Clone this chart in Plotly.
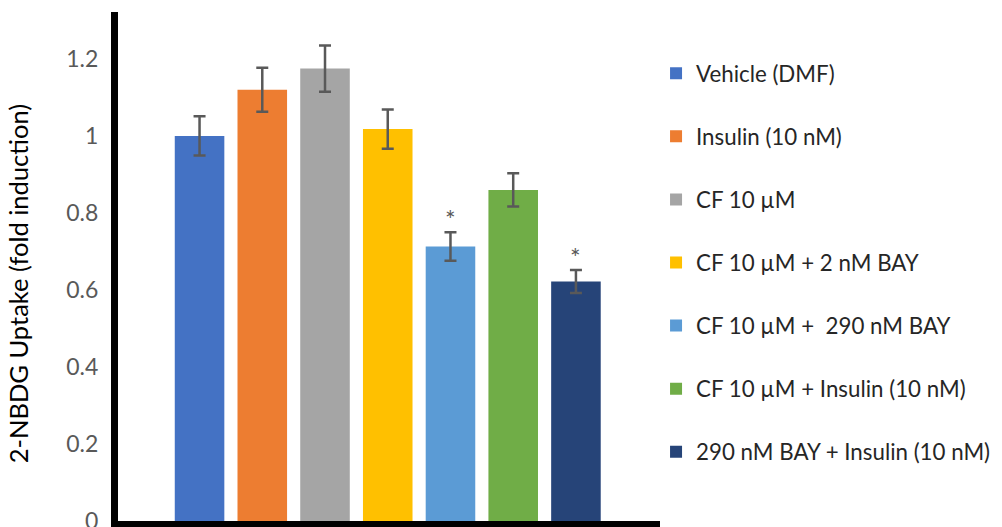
import plotly.graph_objects as go

categories = ["Vehicle (DMF)", "Insulin (10 nM)", "CF 10 µM", "CF 10 µM + 2 nM BAY",
              "CF 10 µM +  290 nM BAY", "CF 10 µM + Insulin (10 nM)",
              "290 nM BAY + Insulin (10 nM)"]
values = [1.00, 1.12, 1.175, 1.018, 0.713, 0.86, 0.622]
errors = [0.051, 0.057, 0.06, 0.051, 0.037, 0.043, 0.030]
significance = ["", "", "", "", "*", "", "*"]
colors = ["#4472C4", "#ED7D31", "#A5A5A5", "#FFC000", "#5B9BD5", "#70AD47", "#264478"]
y_ticks = [0, 0.2, 0.4, 0.6, 0.8, 1, 1.2]
y_ticklabels = ["0", "0.2", "0.4", "0.6", "0.8", "1", "1.2"]

FONT = "Lato, 'Open Sans', sans-serif"

fig = go.Figure()
for i, cat in enumerate(categories):
    fig.add_trace(go.Bar(
        x=[cat], y=[values[i]], name=cat,
        marker=dict(color=colors[i], line=dict(width=0)),
        error_y=dict(type="data", array=[errors[i]], visible=True,
                     color="#595959", thickness=2.5, width=6),
        legendgroup=f"g{i}",
    ))

for i, s in enumerate(significance):
    if s:
        fig.add_annotation(x=categories[i], y=values[i] + errors[i], text=s,
                           showarrow=False, yanchor="bottom", yshift=-4,
                           font=dict(family=FONT, size=25, color="#595959"))

fig.add_annotation(xref="paper", yref="paper", x=-0.185, y=0.4665,
                   text="2-NBDG Uptake (fold induction)", textangle=-90,
                   showarrow=False, xanchor="center", yanchor="middle",
                   font=dict(family=FONT, size=25.5, color="#000000"))

fig.update_layout(
    width=1002, height=527,
    margin=dict(l=110, r=350, t=4, b=14, autoexpand=False),
    paper_bgcolor="white", plot_bgcolor="white",
    barmode="overlay", bargap=0.21,
    showlegend=True,
    legend=dict(x=0.9927, y=0.921, xanchor="left", yanchor="top",
                font=dict(family=FONT, size=22.3, color="#262626"),
                tracegroupgap=31.1, bgcolor="rgba(0,0,0,0)", borderwidth=0),
    xaxis=dict(type="category", categoryorder="array", categoryarray=categories,
               range=[-1.30, 7.34], showticklabels=False, ticks="",
               showgrid=False, zeroline=False,
               showline=True, linecolor="black", linewidth=7),
    yaxis=dict(range=[0, 1.322], tickvals=y_ticks, ticktext=y_ticklabels,
               ticks="", showgrid=False, zeroline=False,
               showline=True, linecolor="black", linewidth=7,
               tickfont=dict(family=FONT, size=23, color="#595959"),
               ticklabelstandoff=8),
)

fig.write_html("out.html")
